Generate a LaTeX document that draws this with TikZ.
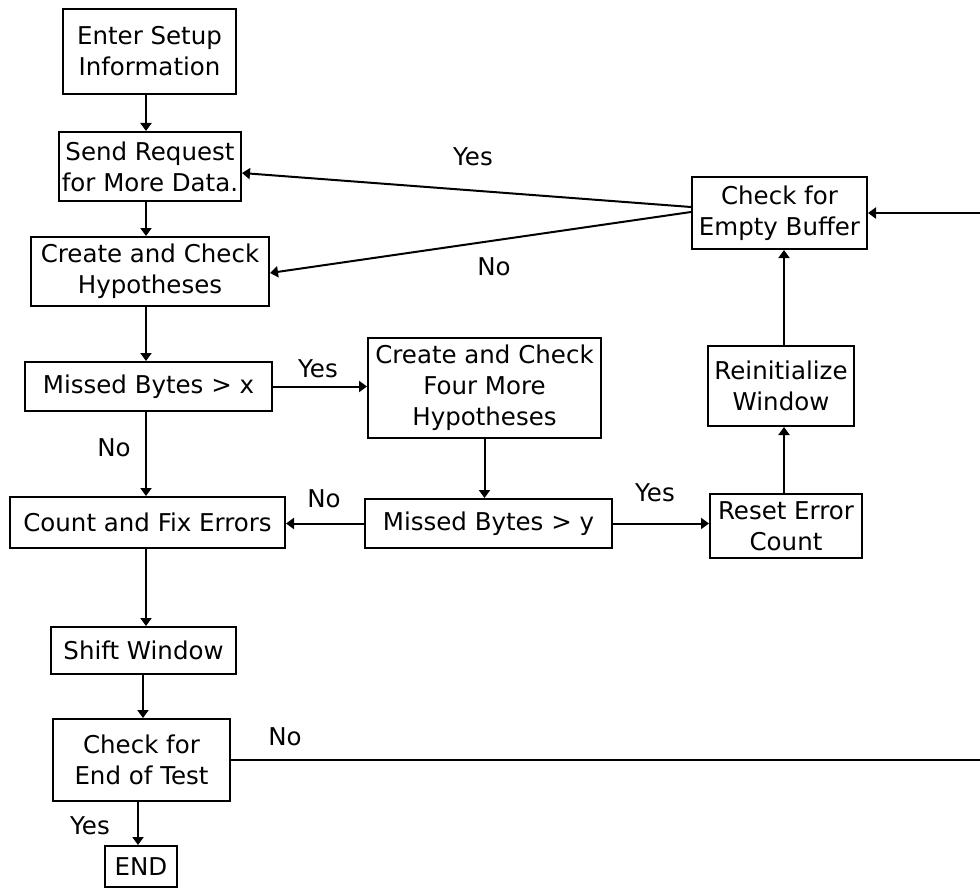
\documentclass[tikz,border=0pt]{standalone}
\usepackage{fontspec}
\setmainfont{DejaVu Sans}
\usetikzlibrary{arrows.meta}
\begin{document}
\begin{tikzpicture}[x=1pt,y=-1pt,
  box/.style={draw, line width=2pt, inner sep=0pt, align=center, font=\fontsize{24.5}{31}\selectfont},
  arr/.style={line width=2pt, -{Triangle[width=11pt,length=8pt]}},
  lbl/.style={font=\fontsize{24.5}{31}\selectfont, inner sep=0pt}]
\useasboundingbox (0,0) rectangle (980,888);
\clip (0,0) rectangle (980,888);
\fill[white] (0,0) rectangle (980,888);

\node[box, minimum width=173pt, minimum height=85pt] (enter) at (149.5,51.5) {Enter Setup\\Information};
\node[box, minimum width=182pt, minimum height=69pt] (send) at (150,166.5) {Send Request\\for More Data.};
\node[box, minimum width=238pt, minimum height=69pt] (create) at (150,271.5) {Create and Check\\Hypotheses};
\node[box, minimum width=247pt, minimum height=49pt] (mbx) at (148.5,386.5) {Missed Bytes > x};
\node[box, minimum width=233pt, minimum height=100pt] (four) at (484.5,388) {Create and Check\\Four More\\Hypotheses};
\node[box, minimum width=247pt, minimum height=49pt] (mby) at (488.5,523.5) {Missed Bytes > y};
\node[box, minimum width=275pt, minimum height=51pt] (count) at (147.5,522.5) {Count and Fix Errors};
\node[box, minimum width=152pt, minimum height=64pt] (reset) at (786,526) {Reset Error\\Count};
\node[box, minimum width=146pt, minimum height=80pt] (reinit) at (781,386) {Reinitialize\\Window};
\node[box, minimum width=175pt, minimum height=72pt] (buffer) at (779.5,213) {Check for\\Empty Buffer};
\node[box, minimum width=185pt, minimum height=47pt] (shift) at (143.5,650.5) {Shift Window};
\node[box, minimum width=177pt, minimum height=82pt] (endtest) at (141.5,760) {Check for\\End of Test};
\node[box, minimum width=72pt, minimum height=41pt] (END) at (141,866.5) {END};

\coordinate (c1) at (146,0);
\coordinate (c2) at (143,0);
\coordinate (c3) at (138,0);
\coordinate (c4) at (784,0);
\coordinate (edge) at (992,0);

\draw[arr] (enter.south -| c1) -- (send.north -| c1);
\draw[arr] (send.south -| c1) -- (create.north -| c1);
\draw[arr] (create.south -| c1) -- (mbx.north -| c1);
\draw[arr] (mbx.south -| c1) -- (count.north -| c1);
\draw[arr] (count.south -| c1) -- (shift.north -| c1);
\draw[arr] (shift.south -| c2) -- (endtest.north -| c2);
\draw[arr] (endtest.south -| c3) -- (END.north -| c3);

\draw[arr] ([yshift=6pt]buffer.west) -- ([yshift=-6.5pt]send.east);
\draw[arr] ([yshift=1pt]buffer.west) -- ([yshift=-1.5pt]create.east);
\draw[arr] (mbx.east) -- (mbx.east -| four.west);
\draw[arr] (four.south) -- (four.south |- mby.north);
\draw[arr] (mby.west) -- (mby.west -| count.east);
\draw[arr] (mby.east) -- (mby.east -| reset.west);
\draw[arr] (reset.north -| c4) -- (reinit.south -| c4);
\draw[arr] (reinit.north -| c4) -- (buffer.south -| c4);
\draw[arr] (endtest.east) -- (endtest.east -| edge) |- (buffer.east);

\node[lbl] (l1) at (473,157) {Yes};
\node[lbl] (l2) at (494,267) {No};
\node[lbl] (l3) at (318,369) {Yes};
\node[lbl] (l4) at (114,448) {No};
\node[lbl] (l5) at (324,499) {No};
\node[lbl] (l6) at (655,493) {Yes};
\node[lbl] (l7) at (285,737) {No};
\node[lbl] (l8) at (90,826) {Yes};
\end{tikzpicture}
\end{document}
